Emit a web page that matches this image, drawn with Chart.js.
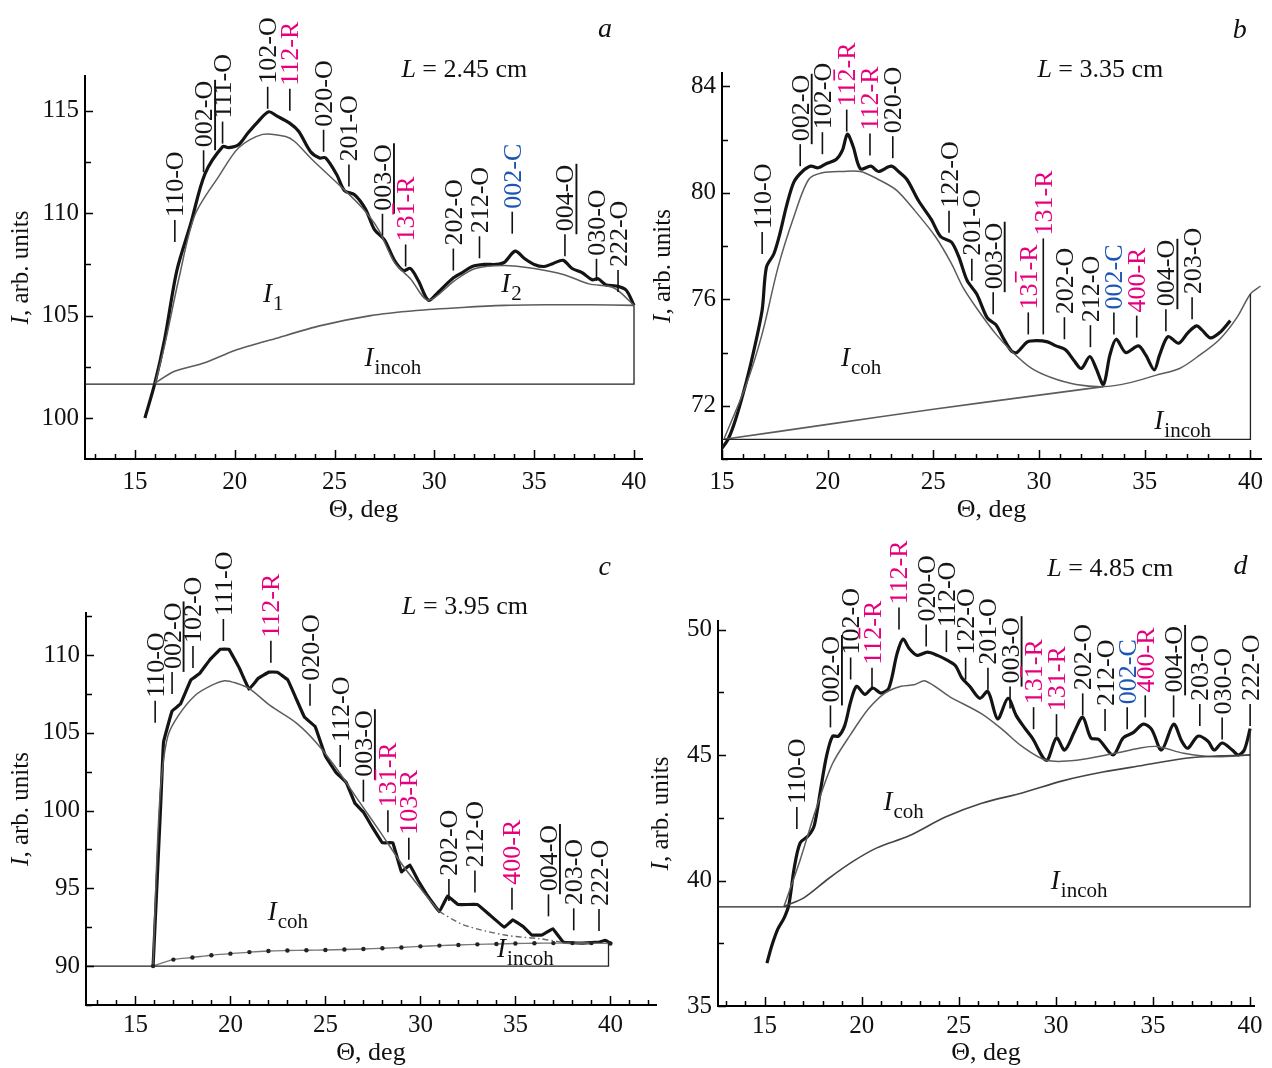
<!DOCTYPE html>
<html>
<head>
<meta charset="utf-8">
<script src="https://cdn.jsdelivr.net/npm/chart.js@4.4.1/dist/chart.umd.min.js"></script>
<style>
  html, body { margin: 0; padding: 0; background: #fff; }
  #wrap { position: relative; width: 1272px; height: 1068px; overflow: hidden; }
  canvas { position: absolute; }
</style>
</head>
<body>
<div id="wrap">
  <canvas id="pa" width="660" height="534" style="left:0;top:0"></canvas>
  <canvas id="pb" width="636" height="534" style="left:636px;top:0"></canvas>
  <canvas id="pc" width="660" height="534" style="left:0;top:534px"></canvas>
  <canvas id="pd" width="636" height="534" style="left:636px;top:534px"></canvas>
</div>
<script>
// ---- data: panel a (L = 2.45 cm) ----
const aXRange = [12.5, 40.4];
const aYRange = [98, 116.7];
const aXTicks = [15, 20, 25, 30, 35, 40];
const aYTicks = [100, 105, 110, 115];
const aYMinor = 2.5;
const aTotal = [[15.5,100.0],[16.0,101.7],[16.5,103.9],[17.1,107.2],[17.8,109.5],[18.5,111.9],[19.4,113.25],[19.7,113.2],[20.2,113.35],[20.65,113.9],[21.1,114.4],[21.7,114.95],[22.1,114.75],[22.75,114.4],[23.2,114.0],[23.8,113.0],[24.25,112.7],[24.55,112.7],[25.1,111.9],[25.5,111.1],[26.0,110.9],[26.55,110.2],[27.0,109.2],[27.5,108.7],[28.0,107.7],[28.45,107.2],[28.8,107.3],[29.2,106.7],[29.7,105.75],[30.15,106.1],[30.9,106.8],[31.4,107.1],[31.9,107.4],[32.5,107.5],[33.1,107.5],[33.5,107.6],[34.05,108.15],[34.5,107.8],[35.0,107.5],[35.5,107.4],[35.95,107.55],[36.45,107.7],[36.9,107.3],[37.4,107.1],[37.9,106.75],[38.2,106.8],[38.6,106.5],[39.1,106.45],[39.6,106.25],[40.0,105.5]];
const aCoh = [[16.0,101.6],[16.5,103.6],[17.2,106.8],[18.0,109.9],[19.2,111.8],[20.2,113.2],[21.4,113.85],[22.55,113.75],[23.0,113.5],[23.9,112.6],[25.1,111.5],[26.35,110.3],[27.2,109.2],[28.0,107.6],[28.8,106.8],[29.7,105.75],[31.0,106.7],[32.05,107.3],[33.5,107.45],[35.0,107.3],[36.5,107.0],[37.75,106.55],[39.0,106.35],[40.0,105.5]];
const aIncoh = [[16.0,101.7],[16.9,102.25],[18.5,102.7],[20.0,103.3],[22.1,103.9],[24.25,104.5],[26.8,105.0],[29.1,105.25],[31.4,105.4],[33.5,105.5],[35.6,105.53],[37.75,105.53],[40.0,105.5]];
const aBase = [[12.5,101.66],[40.0,101.66],[40.0,105.5]];
const aPeaks = [["110-O",17.0,108.6],["_002-O",18.44,112.0],["111-O",19.39,113.4],["102-O",21.65,115.1],["112-R",22.76,115.0],["020-O",24.45,113.0],["201-O",25.72,111.3],["_003-O",27.4,108.9],["13{1}-R",28.56,107.4],["202-O",30.95,107.2],["212-O",32.26,107.8],["002-C",33.9,109.0],["_004-O",36.54,107.9],["030-O",38.12,106.7],["222-O",39.2,106.15]];
const aNotes = [["I_1",21.9,105.9],["I_2",33.84,106.4],["I_incoh",27.9,102.8]];
const aTitle = ["2.45", 31.5, 117.0];
const aLetter = ["a", 38.55, 118.95];

// ---- data: panel b (L = 3.35 cm) ----
const bXRange = [15, 40.5];
const bYRange = [70, 84.5];
const bXTicks = [15, 20, 25, 30, 35, 40];
const bYTicks = [72, 76, 80, 84];
const bYMinor = 2;
const bTotal = [[14.95,70.35],[15.3,70.76],[15.65,71.5],[16.15,72.9],[16.5,74.05],[16.9,75.6],[17.1,77.2],[17.45,77.7],[17.75,78.5],[18.05,79.5],[18.4,80.4],[18.8,80.8],[19.2,81.0],[19.55,80.94],[19.95,81.1],[20.4,81.25],[20.7,81.6],[20.93,82.2],[21.2,81.75],[21.55,80.9],[22.05,81.0],[22.4,80.8],[23.0,81.0],[23.35,80.8],[23.75,80.5],[24.3,79.7],[24.9,79.0],[25.35,78.35],[25.85,78.15],[26.2,77.6],[26.6,76.7],[27.05,76.2],[27.55,75.3],[27.95,75.05],[28.3,74.55],[28.7,74.05],[28.95,74.0],[29.45,74.4],[29.9,74.45],[30.4,74.4],[30.8,74.25],[31.25,74.1],[31.65,73.7],[32.0,73.4],[32.4,73.85],[32.7,73.4],[33.05,72.8],[33.35,73.9],[33.65,74.5],[34.1,74.0],[34.7,74.25],[35.05,73.9],[35.45,73.35],[35.7,73.9],[36.1,74.6],[36.6,74.35],[37.05,74.75],[37.45,75.0],[37.7,74.85],[38.1,74.55],[38.55,74.75],[39.05,75.2]];
const bCoh = [[15.1,70.76],[16.15,72.8],[16.9,74.7],[17.65,77.2],[18.4,79.1],[19.1,80.5],[19.75,80.75],[20.7,80.8],[21.55,80.8],[22.4,80.5],[23.25,80.1],[24.1,79.35],[25.1,78.35],[25.85,77.35],[26.4,76.45],[27.15,75.55],[27.95,74.7],[28.7,74.05],[29.65,73.4],[30.6,73.05],[31.75,72.8],[33.05,72.72],[34.2,72.85],[35.55,73.15],[36.65,73.4],[37.6,73.9],[38.55,74.5],[39.35,75.3],[40.0,76.2],[40.48,76.5]];
const bIncoh = [[15.1,70.74],[20.0,71.3],[25.0,71.87],[30.0,72.4],[33.05,72.72]];
const bBase = [[15.0,70.74],[40.0,70.74],[40.0,76.2]];
const bPeaks = [["110-O",16.9,77.7],["_002-O",18.7,81.0],["102-O",19.75,81.45],["11{2}-R",20.9,82.3],["112-R",22.0,81.4],["020-O",23.08,81.3],["122-O",25.74,78.5],["201-O",26.82,76.7],["_003-O",27.83,75.44],["13{1}-R",29.49,74.68],["|131-R",30.2,74.68],["202-O",31.2,74.5],["212-O",32.43,74.2],["002-C",33.54,74.68],["400-R",34.62,74.56],["_004-O",36.0,74.8],["203-O",37.24,75.25]];
const bNotes = [["I_coh",21.56,73.67],["I_incoh",36.77,71.33]];
const bTitle = ["3.35", 32.9, 84.6];
const bLetter = ["b", 39.5, 86.1];

// ---- data: panel c (L = 3.95 cm) ----
const cXRange = [12.4, 42.4];
const cYRange = [87.5, 112.7];
const cXTicks = [15, 20, 25, 30, 35, 40];
const cYTicks = [90, 95, 100, 105, 110];
const cYMinor = 2.5;
const cTotal = [[15.93,89.96],[16.33,100.35],[16.48,104.4],[16.93,106.4],[17.37,106.85],[17.92,108.4],[18.37,108.8],[18.92,109.7],[19.47,110.37],[19.92,110.37],[20.47,109.16],[20.98,107.8],[21.47,108.5],[22.02,108.9],[22.46,108.9],[23.02,108.4],[23.46,107.2],[23.9,106.0],[24.46,105.4],[25.0,103.5],[25.56,102.45],[26.1,101.8],[26.56,100.46],[27.0,99.9],[27.44,99.0],[28.0,97.93],[28.55,97.93],[29.0,96.06],[29.44,96.5],[29.88,95.5],[30.32,94.63],[31.0,93.5],[31.43,94.5],[31.98,93.96],[33.0,93.96],[33.64,93.3],[34.42,92.5],[34.86,92.97],[35.42,92.53],[35.86,92.0],[36.41,92.0],[36.97,92.4],[37.52,91.54],[38.52,91.48],[39.4,91.54],[39.73,91.65],[40.07,91.43]];
const cCoh = [[15.93,90.0],[16.1,96.0],[16.33,101.5],[16.7,104.75],[17.26,106.1],[18.14,107.4],[19.03,108.06],[19.7,108.35],[20.36,108.17],[21.0,107.84],[22.1,106.74],[23.46,105.64],[24.57,104.3],[25.67,102.56],[26.78,100.57],[27.9,98.6],[29.0,96.6],[30.1,94.85],[31.0,93.5]];
const cCohTail = [[31.0,93.5],[32.3,92.64],[34.53,91.98],[36.3,91.76],[37.4,91.54]];
const cIncoh = [[15.93,90.0],[17,90.42],[18,90.55],[19,90.7],[20,90.8],[21,90.9],[22,90.97],[23,91.0],[24,91.02],[25,91.04],[26,91.07],[27,91.1],[28,91.15],[29,91.2],[30,91.27],[31,91.32],[32,91.36],[33,91.4],[34,91.42],[35,91.45],[36,91.47],[37,91.48],[38,91.48],[39,91.48],[40,91.45]];
const cBase = [[12.4,90.0],[39.9,90.0],[39.9,91.45]];
const cPeaks = [["110-O",16.04,105.64],["_002-O",16.93,107.5],["102-O",18.03,109.16],["111-O",19.63,110.9],["112-R",22.13,109.5],["020-O",24.19,106.74],["112-O",25.78,102.8],["_003-O",27.0,100.57],["13{1}-R",28.29,98.6],["103-R",29.39,96.83],["202-O",31.5,94.18],["212-O",32.87,94.74],["400-R",34.82,93.63],["_004-O",36.74,93.2],["203-O",38.07,92.3],["222-O",39.4,92.25]];
const cNotes = [["I_coh",23.0,93.3],["I_incoh",35.5,90.9]];
const cTitle = ["3.95", 32.35, 113.1];
const cLetter = ["c", 39.7, 115.6];

// ---- data: panel d (L = 4.85 cm) ----
const dXRange = [12.6, 40.2];
const dYRange = [35, 50.34];
const dXTicks = [15, 20, 25, 30, 35, 40];
const dYTicks = [35, 40, 45, 50];
const dYMinor = 2.5;
const dTotal = [[15.12,36.71],[15.37,37.4],[15.69,38.08],[16.0,38.5],[16.25,39.04],[16.52,40.48],[16.83,41.5],[17.25,41.78],[17.56,42.2],[17.87,43.56],[18.18,44.93],[18.5,45.75],[18.8,45.75],[19.12,46.16],[19.43,47.12],[19.74,47.74],[20.16,47.42],[20.57,47.67],[20.99,47.47],[21.4,47.67],[21.82,49.04],[22.13,49.62],[22.44,49.25],[22.86,48.97],[23.38,49.1],[23.9,48.97],[24.42,48.77],[24.83,48.56],[25.15,48.08],[25.56,47.74],[26.08,47.26],[26.5,47.53],[27.0,46.44],[27.53,47.26],[27.95,46.58],[28.37,46.1],[28.78,45.68],[29.51,44.79],[30.03,45.68],[30.45,45.2],[30.97,45.96],[31.38,46.51],[31.8,45.68],[32.21,45.62],[32.94,45.0],[33.46,45.68],[33.98,45.89],[34.5,46.23],[34.92,46.03],[35.44,45.2],[36.06,46.23],[36.48,45.55],[36.79,45.27],[37.31,45.75],[37.83,45.55],[38.15,45.2],[38.56,45.48],[39.08,45.2],[39.39,45.0],[39.7,45.2],[40.0,46.05]];
const dCoh = [[16.0,38.97],[16.83,40.82],[17.66,42.88],[18.5,44.66],[19.43,45.82],[20.36,46.85],[21.2,47.47],[22.03,47.74],[22.7,47.8],[23.28,47.95],[24.52,47.33],[26.18,46.64],[27.22,46.03],[28.26,45.34],[29.51,44.79],[31.07,44.79],[33.05,45.07],[34.29,45.27],[35.23,45.34],[36.58,45.07],[38.24,44.93],[40.0,45.0]];
const dIncoh = [[16.0,38.97],[17.04,39.32],[18.28,40.07],[19.53,40.75],[20.78,41.3],[22.44,41.78],[24.31,42.53],[26.18,43.08],[28.26,43.49],[30.34,43.97],[32.42,44.32],[34.5,44.59],[36.58,44.86],[38.45,44.97],[40.0,45.0]];
const dBase = [[12.6,38.95],[40.0,38.95],[40.0,46.05]];
const dPeaks = [["110-O",16.66,42.05],["_002-O",18.39,46.1],["102-O",19.43,48.01],["11{2}-R",20.53,47.6],["112-R",21.92,50.0],["020-O",23.32,49.32],["112-O",24.36,49.1],["122-O",25.35,48.0],["201-O",26.5,47.6],["_003-O",27.64,46.85],["13{1}-R",28.85,46.03],["131-R",30.03,45.75],["202-O",31.38,46.58],["212-O",32.53,45.96],["002-C",33.67,46.03],["400-R",34.6,46.5],["_004-O",36.06,46.5],["203-O",37.41,46.16],["030-O",38.56,45.62],["222-O",40.0,46.16]];
const dNotes = [["I_coh",22.13,43.0],["I_incoh",31.17,39.86]];
const dTitle = ["4.85", 32.8, 52.4];
const dLetter = ["d", 39.5, 52.5];

// ---- drawing helpers ----
const FONT = '"Liberation Serif", "Times New Roman", serif';
const INK = { O: "#161616", R: "#e6007e", C: "#1d55b3" };

function pts(arr) {
  return arr.map(([x, y]) => ({ x, y }));
}

function lineSet(arr, width, color, extra) {
  return Object.assign({
    data: pts(arr),
    showLine: true,
    borderColor: color,
    borderWidth: width,
    pointRadius: 0,
    fill: false,
    tension: 0,
  }, extra || {});
}

// peak label: vertical dash then rotated text; "_" = underlined, "|" = long dash, {n} = bar over n
function drawPeak(ctx, x, y, name) {
  let long = false, under = false, barIdx = -1;
  if (name[0] === "|") { long = true; name = name.slice(1); }
  if (name[0] === "_") { under = true; name = name.slice(1); }
  if (name.indexOf("{") >= 0) {
    barIdx = name.indexOf("{");
    name = name.replace("{", "").replace("}", "");
  }
  const kind = name.slice(-1);
  ctx.save();
  ctx.translate(x, y);
  ctx.rotate(-Math.PI / 2);
  ctx.font = "26px " + FONT;
  ctx.textBaseline = "alphabetic";
  ctx.textAlign = "left";
  const dashLen = long ? 96 : 22;
  ctx.strokeStyle = "#111";
  ctx.lineWidth = 1.6;
  ctx.beginPath();
  ctx.moveTo(0, 0);
  ctx.lineTo(dashLen, 0);
  ctx.stroke();
  const b = 8.5;
  const x0 = dashLen + 3;
  ctx.fillStyle = INK[kind] || "#111";
  ctx.fillText(name, x0, b);
  const w = ctx.measureText(name).width;
  if (under) {
    ctx.strokeStyle = "#111";
    ctx.lineWidth = 1.9;
    ctx.beginPath();
    ctx.moveTo(x0 - 3, b + 3);
    ctx.lineTo(x0 + w + 1, b + 3);
    ctx.stroke();
  }
  if (barIdx >= 0) {
    const px = ctx.measureText(name.slice(0, barIdx)).width;
    const cw = ctx.measureText(name[barIdx]).width;
    ctx.strokeStyle = ctx.fillStyle;
    ctx.lineWidth = 1.7;
    ctx.beginPath();
    ctx.moveTo(x0 + px + 1, b - 21);
    ctx.lineTo(x0 + px + cw - 1, b - 21);
    ctx.stroke();
  }
  ctx.restore();
}

function drawNote(ctx, x, y, s) {
  const [main, sub] = s.split("_");
  ctx.save();
  ctx.textBaseline = "alphabetic";
  ctx.textAlign = "left";
  ctx.fillStyle = "#111";
  ctx.font = "italic 27px " + FONT;
  const w1 = ctx.measureText(main).width;
  ctx.font = "21px " + FONT;
  const w2 = sub ? ctx.measureText(sub).width : 0;
  const left = x - (w1 + w2) / 2;
  ctx.font = "italic 27px " + FONT;
  ctx.fillText(main, left, y + 5);
  if (sub) {
    ctx.font = "21px " + FONT;
    ctx.fillText(sub, left + w1 + 1, y + 13);
  }
  ctx.restore();
}

function drawTitle(ctx, x, y, len) {
  const rest = " = " + len + " cm";
  ctx.save();
  ctx.textBaseline = "middle";
  ctx.textAlign = "left";
  ctx.fillStyle = "#111";
  ctx.font = "italic 26px " + FONT;
  const w1 = ctx.measureText("L").width;
  ctx.font = "26px " + FONT;
  const w2 = ctx.measureText(rest).width;
  const left = x - (w1 + w2) / 2;
  ctx.font = "italic 26px " + FONT;
  ctx.fillText("L", left, y);
  ctx.font = "26px " + FONT;
  ctx.fillText(rest, left + w1, y);
  ctx.restore();
}

function drawYTitle(ctx, cx, cy) {
  const rest = ", arb. units";
  ctx.save();
  ctx.translate(cx, cy);
  ctx.rotate(-Math.PI / 2);
  ctx.textBaseline = "middle";
  ctx.textAlign = "left";
  ctx.fillStyle = "#111";
  ctx.font = "italic 25px " + FONT;
  const w1 = ctx.measureText("I").width;
  ctx.font = "25px " + FONT;
  const w2 = ctx.measureText(rest).width;
  const left = -(w1 + w2) / 2;
  ctx.font = "italic 25px " + FONT;
  ctx.fillText("I", left, 0);
  ctx.font = "25px " + FONT;
  ctx.fillText(rest, left + w1, 0);
  ctx.restore();
}

// ---- panel builder ----
function makePanel(id, P) {
  const decor = {
    id: "decor" + id,
    afterDraw(chart) {
      const ctx = chart.ctx;
      const xs = chart.scales.x;
      const ys = chart.scales.y;
      const ca = chart.chartArea;
      ctx.save();
      // inward ticks
      ctx.strokeStyle = "#000";
      ctx.lineWidth = 1.5;
      ctx.beginPath();
      for (let v = Math.ceil(P.xr[0]); v <= P.xr[1] + 1e-6; v++) {
        const px = Math.round(xs.getPixelForValue(v)) + 0.5;
        const len = P.xt.includes(v) ? 9 : 5;
        ctx.moveTo(px, ca.bottom);
        ctx.lineTo(px, ca.bottom - len);
      }
      const k0 = Math.ceil(P.yr[0] / P.ym - 1e-6);
      for (let k = k0; k * P.ym <= P.yr[1] + 1e-6; k++) {
        const v = +(k * P.ym).toFixed(4);
        const py = Math.round(ys.getPixelForValue(v)) + 0.5;
        const len = P.yt.includes(v) ? 8 : 6;
        ctx.moveTo(ca.left, py);
        ctx.lineTo(ca.left + len, py);
      }
      ctx.stroke();
      ctx.restore();

      P.peaks.forEach(([name, t, v]) => {
        drawPeak(ctx, xs.getPixelForValue(t), ys.getPixelForValue(v), name);
      });
      P.notes.forEach(([s, t, v]) => {
        drawNote(ctx, xs.getPixelForValue(t), ys.getPixelForValue(v), s);
      });
      drawTitle(ctx, xs.getPixelForValue(P.title[1]), ys.getPixelForValue(P.title[2]), P.title[0]);
      ctx.save();
      ctx.font = "italic 28px " + FONT;
      ctx.fillStyle = "#111";
      ctx.textAlign = "center";
      ctx.textBaseline = "middle";
      ctx.fillText(P.letter[0], xs.getPixelForValue(P.letter[1]), ys.getPixelForValue(P.letter[2]));
      // axis titles
      ctx.font = "26px " + FONT;
      ctx.fillText("\u0398, deg", (ca.left + ca.right) / 2, ca.bottom + P.xTitle);
      ctx.restore();
      drawYTitle(ctx, ca.left + P.yTitle, (ca.top + ca.bottom) / 2);
    },
  };

  const tickFont = { family: FONT, size: 25 };
  new Chart(document.getElementById(id), {
    type: "scatter",
    data: { datasets: P.sets },
    options: {
      responsive: false,
      animation: false,
      devicePixelRatio: 1,
      layout: { padding: P.pad },
      plugins: { legend: { display: false }, tooltip: { enabled: false } },
      scales: {
        x: {
          type: "linear",
          min: P.xr[0],
          max: P.xr[1],
          grid: { display: false, drawTicks: false },
          border: { display: true, color: "#000", width: 2 },
          ticks: { font: tickFont, color: "#111", padding: P.xPad, autoSkip: false, maxRotation: 0 },
          afterBuildTicks: (s) => { s.ticks = P.xt.map((v) => ({ value: v })); },
          afterFit: (s) => { s.height = P.xh; },
        },
        y: {
          type: "linear",
          min: P.yr[0],
          max: P.yr[1],
          grid: { display: false, drawTicks: false },
          border: { display: true, color: "#000", width: 2 },
          ticks: { font: tickFont, color: "#111", padding: 6, autoSkip: false },
          afterBuildTicks: (s) => { s.ticks = P.yt.map((v) => ({ value: v })); },
          afterFit: (s) => { s.width = P.yw; },
        },
      },
    },
    plugins: [decor],
  });
}

const THICK = "#141414";
const THIN = "#5c5c5c";

makePanel("pa", {
  xr: aXRange, yr: aYRange, xt: aXTicks, yt: aYTicks, ym: aYMinor,
  peaks: aPeaks, notes: aNotes, title: aTitle, letter: aLetter,
  pad: { left: 5, top: 76, right: 18, bottom: 5 }, yw: 80, xh: 70, xPad: 8,
  xTitle: 51, yTitle: -64,
  sets: [
    lineSet(aBase, 1.3, "#222"),
    lineSet(aIncoh, 1.6, THIN, { tension: 0.2 }),
    lineSet(aCoh, 1.5, THIN, { tension: 0.3 }),
    lineSet(aTotal, 3.2, THICK, { tension: 0.3 }),
  ],
});

makePanel("pb", {
  xr: bXRange, yr: bYRange, xt: bXTicks, yt: bYTicks, ym: bYMinor,
  peaks: bPeaks, notes: bNotes, title: bTitle, letter: bLetter,
  pad: { left: 5, top: 73, right: 11, bottom: 5 }, yw: 81, xh: 70, xPad: 8,
  xTitle: 51, yTitle: -59,
  sets: [
    lineSet(bBase, 1.3, "#222"),
    lineSet(bIncoh, 1.6, THIN, { tension: 0.2 }),
    lineSet(bCoh, 1.5, THIN, { tension: 0.3 }),
    lineSet(bTotal, 3.2, THICK, { tension: 0.3 }),
  ],
});

makePanel("pc", {
  xr: cXRange, yr: cYRange, xt: cXTicks, yt: cYTicks, ym: cYMinor,
  peaks: cPeaks, notes: cNotes, title: cTitle, letter: cLetter,
  pad: { left: 5, top: 79, right: 4, bottom: 5 }, yw: 81, xh: 58, xPad: 5,
  xTitle: 48, yTitle: -65,
  sets: [
    lineSet(cBase, 1.3, "#222"),
    lineSet(cIncoh, 1.4, "#777", { tension: 0.3, pointRadius: 2.2, pointBackgroundColor: "#222", pointBorderWidth: 0 }),
    lineSet(cCoh, 1.5, THIN, { tension: 0.3 }),
    lineSet(cCohTail, 1.4, "#666", { tension: 0.3, borderDash: [6, 3, 1.5, 3] }),
    lineSet(cTotal, 3.2, THICK, { tension: 0.05 }),
  ],
});

makePanel("pd", {
  xr: dXRange, yr: dYRange, xt: dXTicks, yt: dYTicks, ym: dYMinor,
  peaks: dPeaks, notes: dNotes, title: dTitle, letter: dLetter,
  pad: { left: 5, top: 87, right: 18, bottom: 5 }, yw: 77, xh: 57, xPad: 5,
  xTitle: 47, yTitle: -57,
  sets: [
    lineSet(dBase, 1.3, "#222"),
    lineSet(dIncoh, 1.6, "#444", { tension: 0.3 }),
    lineSet(dCoh, 1.5, THIN, { tension: 0.3 }),
    lineSet(dTotal, 3.2, THICK, { tension: 0.3 }),
  ],
});
</script>
</body>
</html>
